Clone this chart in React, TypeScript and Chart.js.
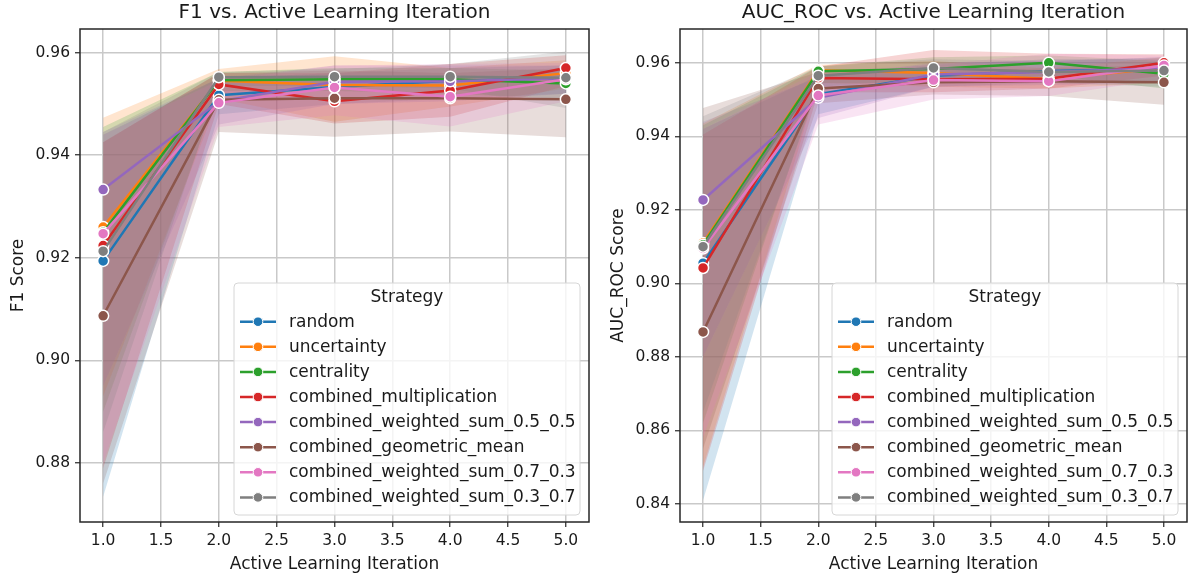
import React, { useEffect, useRef } from 'react';
import { Chart, registerables } from 'chart.js';

Chart.register(...registerables);
Chart.defaults.font.family = '"DejaVu Sans", sans-serif';

// ---------- data ----------
const iterations = [1, 2, 3, 4, 5];
const xTicks = [1.0, 1.5, 2.0, 2.5, 3.0, 3.5, 4.0, 4.5, 5.0];
const f1Ticks = [0.88, 0.9, 0.92, 0.94, 0.96];
const aucTicks = [0.84, 0.86, 0.88, 0.9, 0.92, 0.94, 0.96];

const strategies = [
  'random',
  'uncertainty',
  'centrality',
  'combined_multiplication',
  'combined_weighted_sum_0.5_0.5',
  'combined_geometric_mean',
  'combined_weighted_sum_0.7_0.3',
  'combined_weighted_sum_0.3_0.7',
];
const colors = ['#1f77b4', '#ff7f0e', '#2ca02c', '#d62728', '#9467bd', '#8c564b', '#e377c2', '#7f7f7f'];
const bandColors = [
  'rgba(31,119,180,0.2)',
  'rgba(255,127,14,0.2)',
  'rgba(44,160,44,0.2)',
  'rgba(214,39,40,0.2)',
  'rgba(148,103,189,0.2)',
  'rgba(140,86,75,0.2)',
  'rgba(227,119,194,0.2)',
  'rgba(127,127,127,0.2)',
];

// F1 mean per strategy (iterations 1..5)
const f1Mean = [
  [0.9194, 0.9517, 0.9533, 0.9545, 0.955],
  [0.926, 0.9545, 0.9537, 0.9536, 0.956],
  [0.925, 0.9546, 0.9548, 0.9548, 0.954],
  [0.9224, 0.9538, 0.9505, 0.9526, 0.957],
  [0.9333, 0.9505, 0.9543, 0.9544, 0.955],
  [0.9087, 0.9508, 0.9511, 0.9511, 0.9509],
  [0.9247, 0.9502, 0.9532, 0.9514, 0.9548],
  [0.9213, 0.9552, 0.9553, 0.9553, 0.9551],
];
const f1Low = [
  [0.8734, 0.948, 0.95, 0.951, 0.952],
  [0.893, 0.951, 0.9465, 0.9495, 0.953],
  [0.89, 0.9525, 0.9525, 0.952, 0.951],
  [0.879, 0.95, 0.9462, 0.9475, 0.9535],
  [0.895, 0.946, 0.95, 0.9505, 0.952],
  [0.876, 0.9445, 0.9436, 0.9446, 0.9435],
  [0.88, 0.9455, 0.9478, 0.9456, 0.9505],
  [0.886, 0.9535, 0.9535, 0.953, 0.9492],
];
const f1High = [
  [0.944, 0.955, 0.956, 0.957, 0.9575],
  [0.9473, 0.9568, 0.9593, 0.957, 0.9585],
  [0.9455, 0.9562, 0.957, 0.957, 0.9565],
  [0.9425, 0.956, 0.956, 0.9578, 0.9595],
  [0.9445, 0.955, 0.9575, 0.9575, 0.9575],
  [0.9425, 0.956, 0.9565, 0.956, 0.957],
  [0.944, 0.9545, 0.9575, 0.9578, 0.958],
  [0.9445, 0.9562, 0.9568, 0.9578, 0.9602],
];

// AUC_ROC mean per strategy (iterations 1..5)
const aucMean = [
  [0.9055, 0.9515, 0.9565, 0.9578, 0.9584],
  [0.911, 0.958, 0.9572, 0.9556, 0.9586],
  [0.9105, 0.9577, 0.9583, 0.96, 0.957],
  [0.9042, 0.9559, 0.9555, 0.9557, 0.96],
  [0.9227, 0.9505, 0.9568, 0.9575, 0.9586],
  [0.8868, 0.953, 0.9547, 0.955, 0.9547],
  [0.9095, 0.9511, 0.9553, 0.955, 0.9593],
  [0.91, 0.9565, 0.9586, 0.9575, 0.9579],
];
const aucLow = [
  [0.841, 0.946, 0.9535, 0.9545, 0.9545],
  [0.85, 0.9545, 0.9535, 0.953, 0.9545],
  [0.862, 0.9545, 0.9545, 0.9565, 0.953],
  [0.849, 0.952, 0.952, 0.953, 0.9565],
  [0.88, 0.945, 0.9535, 0.954, 0.9545],
  [0.855, 0.949, 0.9514, 0.951, 0.9486],
  [0.858, 0.9432, 0.95, 0.951, 0.9555],
  [0.865, 0.9535, 0.9555, 0.9545, 0.9535],
];
const aucHigh = [
  [0.942, 0.9565, 0.9595, 0.961, 0.961],
  [0.9435, 0.9595, 0.9605, 0.9585, 0.9615],
  [0.943, 0.959, 0.9615, 0.962, 0.9605],
  [0.9405, 0.959, 0.9635, 0.9625, 0.9623],
  [0.944, 0.956, 0.96, 0.9605, 0.9615],
  [0.9477, 0.9575, 0.958, 0.9585, 0.9595],
  [0.942, 0.9575, 0.9595, 0.9625, 0.962],
  [0.9455, 0.959, 0.961, 0.9605, 0.9615],
];

// ---------- chart building ----------
const decorPlugin = {
  id: 'decor',
  afterDraw(chart: any, _args: any, opts: any) {
    const { ctx, chartArea: ca } = chart;
    ctx.save();
    // frame
    ctx.strokeStyle = '#262626';
    ctx.lineWidth = 1.5;
    ctx.strokeRect(ca.left, ca.top, ca.right - ca.left, ca.bottom - ca.top);
    // title
    ctx.fillStyle = '#1a1a1a';
    ctx.font = '20px "DejaVu Sans"';
    ctx.textAlign = 'center';
    ctx.textBaseline = 'middle';
    ctx.fillText(opts.title, (ca.left + ca.right) / 2, 13);
    // legend
    const lw = 346;
    const lh = 232;
    const lx = ca.right - 9 - lw;
    const ly = ca.bottom - 7 - lh;
    ctx.beginPath();
    const r = 4;
    ctx.moveTo(lx + r, ly);
    ctx.lineTo(lx + lw - r, ly);
    ctx.arcTo(lx + lw, ly, lx + lw, ly + r, r);
    ctx.lineTo(lx + lw, ly + lh - r);
    ctx.arcTo(lx + lw, ly + lh, lx + lw - r, ly + lh, r);
    ctx.lineTo(lx + r, ly + lh);
    ctx.arcTo(lx, ly + lh, lx, ly + lh - r, r);
    ctx.lineTo(lx, ly + r);
    ctx.arcTo(lx, ly, lx + r, ly, r);
    ctx.closePath();
    ctx.fillStyle = 'rgba(255,255,255,0.8)';
    ctx.fill();
    ctx.strokeStyle = '#d6d6d6';
    ctx.lineWidth = 1;
    ctx.stroke();
    ctx.fillStyle = '#1a1a1a';
    ctx.font = '17px "DejaVu Sans"';
    ctx.textAlign = 'center';
    ctx.fillText('Strategy', lx + lw / 2, ly + 14.5);
    ctx.textAlign = 'left';
    strategies.forEach((s, i) => {
      const y = ly + 38.7 + i * 25.1;
      ctx.strokeStyle = colors[i];
      ctx.lineWidth = 2.5;
      ctx.beginPath();
      ctx.moveTo(lx + 6, y);
      ctx.lineTo(lx + 42, y);
      ctx.stroke();
      ctx.beginPath();
      ctx.arc(lx + 24, y, 4.8, 0, Math.PI * 2);
      ctx.fillStyle = colors[i];
      ctx.fill();
      ctx.strokeStyle = '#ffffff';
      ctx.lineWidth = 1;
      ctx.stroke();
      ctx.fillStyle = '#1a1a1a';
      ctx.fillText(s, lx + 55, y + 0.5);
    });
    ctx.restore();
  },
};

function buildDatasets(mean: number[][], low: number[][], high: number[][]) {
  const ds: any[] = [];
  strategies.forEach((s, i) => {
    const upperIdx = ds.length;
    ds.push({
      label: s + ' upper',
      data: iterations.map((x, k) => ({ x, y: high[i][k] })),
      borderColor: 'rgba(0,0,0,0)',
      borderWidth: 0,
      pointRadius: 0,
      fill: false,
      order: 200 + (7 - i),
    });
    ds.push({
      label: s + ' lower',
      data: iterations.map((x, k) => ({ x, y: low[i][k] })),
      borderColor: 'rgba(0,0,0,0)',
      borderWidth: 0,
      pointRadius: 0,
      backgroundColor: bandColors[i],
      fill: upperIdx,
      order: 100 + (7 - i),
    });
  });
  strategies.forEach((s, i) => {
    ds.push({
      label: s,
      data: iterations.map((x, k) => ({ x, y: mean[i][k] })),
      borderColor: colors[i],
      backgroundColor: colors[i],
      borderWidth: 2.5,
      pointRadius: 5.5,
      pointBackgroundColor: colors[i],
      pointBorderColor: '#ffffff',
      pointBorderWidth: 1.5,
      fill: false,
      tension: 0,
      order: 7 - i,
    });
  });
  return ds;
}

function makeConfig(
  title: string,
  yLabel: string,
  mean: number[][],
  low: number[][],
  high: number[][],
  yMin: number,
  yMax: number,
  yTicks: number[],
  rightPad: number
): any {
  const gridColor = '#c9c9c9';
  const textColor = '#1a1a1a';
  return {
    type: 'line',
    data: { datasets: buildDatasets(mean, low, high) },
    options: {
      animation: false,
      responsive: false,
      maintainAspectRatio: false,
      devicePixelRatio: 1,
      events: [],
      layout: { padding: { top: 29, left: 0, right: rightPad, bottom: 0 } },
      plugins: {
        legend: { display: false },
        tooltip: { enabled: false },
        title: { display: false },
        decor: { title },
      },
      scales: {
        x: {
          type: 'linear',
          min: 0.8,
          max: 5.2,
          afterBuildTicks: (a: any) => {
            a.ticks = xTicks.map((v) => ({ value: v }));
          },
          afterFit: (s: any) => {
            s.height = 57;
          },
          border: { display: false },
          grid: { color: gridColor, lineWidth: 1.5, tickColor: '#262626', tickLength: 5, tickWidth: 1.2 },
          ticks: {
            padding: 5,
            color: textColor,
            font: { size: 15.5 },
            maxRotation: 0,
            autoSkip: false,
            callback: (v: any) => Number(v).toFixed(1),
          },
          title: {
            display: true,
            text: 'Active Learning Iteration',
            color: textColor,
            font: { size: 17 },
            padding: { top: 0, bottom: 4 },
          },
        },
        y: {
          type: 'linear',
          min: yMin,
          max: yMax,
          afterBuildTicks: (a: any) => {
            a.ticks = yTicks.map((v) => ({ value: v }));
          },
          afterFit: (s: any) => {
            s.width = 80;
          },
          border: { display: false },
          grid: { color: gridColor, lineWidth: 1.5, tickColor: '#262626', tickLength: 5, tickWidth: 1.2 },
          ticks: {
            padding: 5,
            color: textColor,
            font: { size: 15.5 },
            autoSkip: false,
            callback: (v: any) => Number(v).toFixed(2),
          },
          title: {
            display: true,
            text: yLabel,
            color: textColor,
            font: { size: 17 },
            padding: { top: 8, bottom: 0 },
          },
        },
      },
    },
    plugins: [decorPlugin],
  };
}

function ChartCanvas(props: { config: any; width: number; height: number; left: number }) {
  const ref = useRef<HTMLCanvasElement | null>(null);
  useEffect(() => {
    if (!ref.current) return;
    const chart = new Chart(ref.current, props.config);
    return () => chart.destroy();
  }, []);
  return (
    <canvas
      ref={ref}
      width={props.width}
      height={props.height}
      style={{ position: 'absolute', left: props.left, top: 0, width: props.width, height: props.height }}
    />
  );
}

export default function App() {
  const f1Config = makeConfig(
    'F1 vs. Active Learning Iteration',
    'F1 Score',
    f1Mean,
    f1Low,
    f1High,
    0.8685,
    0.9646,
    f1Ticks,
    11
  );
  const aucConfig = makeConfig(
    'AUC_ROC vs. Active Learning Iteration',
    'AUC_ROC Score',
    aucMean,
    aucLow,
    aucHigh,
    0.8351,
    0.9692,
    aucTicks,
    5
  );
  return (
    <div style={{ position: 'absolute', left: 0, top: 0, width: 1194, height: 579, background: '#ffffff', overflow: 'hidden' }}>
      <ChartCanvas config={f1Config} width={600} height={579} left={0} />
      <ChartCanvas config={aucConfig} width={594} height={579} left={600} />
    </div>
  );
}
